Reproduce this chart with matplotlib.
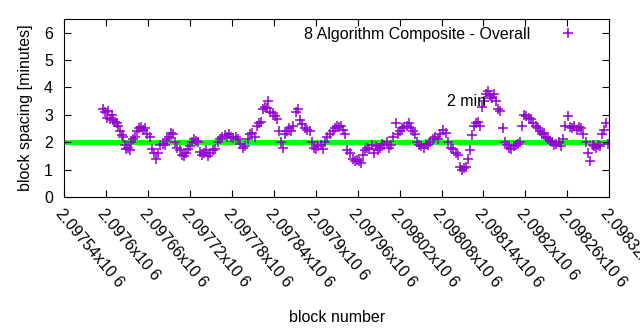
import numpy as np
import matplotlib
matplotlib.use("Agg")
import matplotlib.pyplot as plt

plt.rcParams['font.family'] = ['Liberation Sans', 'DejaVu Sans']
plt.rcParams['font.size'] = 11.5

# segments of the block spacing series: start block, end block
seg_start = [2097596, 2097606, 2097613, 2097620, 2097627, 2097636, 2097644, 2097659,
             2097666, 2097675, 2097687, 2097699, 2097709, 2097717, 2097726, 2097735,
             2097749, 2097760, 2097792, 2097803, 2097816, 2097825, 2097835, 2097845,
             2097853, 2097868, 2097881, 2097895, 2097913, 2097928, 2097945, 2097954,
             2097968, 2097992, 2098011, 2098021, 2098045, 2098064, 2098078, 2098090,
             2098107, 2098121, 2098138, 2098150, 2098161, 2098171, 2098195, 2098218,
             2098238, 2098257, 2098267, 2098286, 2098296, 2098310]
seg_end = seg_start[1:] + [2098320]
seg_vals = [
    [3.2, 3.1, 2.9, 3.15],
    [2.85, 3.0, 2.8],
    [2.75, 2.7, 2.6],
    [2.4, 2.25, 2.2],
    [1.9, 1.75, 1.8, 1.7],
    [2.0, 2.1, 2.2],
    [2.4, 2.5, 2.55, 2.45, 2.5],
    [2.3, 2.2],
    [1.75, 1.6, 1.4],
    [1.6, 1.9, 1.95, 1.9],
    [2.1, 2.2, 2.35, 2.3],
    [2.0, 1.8, 1.7],
    [1.55, 1.5, 1.6],
    [1.75, 1.85, 2.0],
    [2.1, 2.05, 2.0],
    [1.65, 1.55, 1.6, 1.7, 1.5],
    [1.6, 1.7, 1.75],
    [2.0, 2.1, 2.2, 2.25, 2.2, 2.3, 2.2, 2.15, 2.2, 2.1],
    [1.95, 1.8, 1.85],
    [2.1, 2.3, 2.35, 2.2],
    [2.6, 2.7, 2.75],
    [3.2, 3.3, 3.25, 3.5],
    [3.1, 3.05, 2.95],
    [2.85, 2.4, 2.0],
    [1.8, 2.3, 2.4, 2.5, 2.4],
    [2.6, 3.1, 3.2, 2.8],
    [2.65, 2.5, 2.45, 2.4],
    [2.0, 1.8, 1.75, 1.85, 1.9, 1.75],
    [2.0, 2.2, 2.3, 2.4],
    [2.5, 2.6, 2.55, 2.6, 2.45, 2.3],
    [1.7, 1.6],
    [1.4, 1.3, 1.35, 1.3, 1.25],
    [1.55, 1.7, 1.8, 1.75, 1.9, 1.6, 1.85, 1.7],
    [1.8, 1.95, 1.9, 2.0, 1.8, 1.9],
    [2.2, 2.7, 2.3],
    [2.4, 2.5, 2.55, 2.6, 2.7, 2.5, 2.4, 2.3],
    [2.0, 1.9, 1.85, 1.8, 1.95, 1.9],
    [2.0, 2.1, 2.2, 2.1],
    [2.3, 2.45, 2.35],
    [2.0, 1.8, 1.75, 1.6, 1.55],
    [1.1, 1.0, 1.05, 1.1, 1.4],
    [1.7, 2.25, 2.6, 2.7, 2.75, 2.6],
    [3.3, 3.5, 3.75, 3.85],
    [3.7, 3.6, 3.75, 3.5],
    [3.2, 3.15, 2.5],
    [2.0, 1.9, 1.8, 1.75, 1.85, 1.9, 1.95, 2.0],
    [2.6, 3.0, 2.95, 2.9, 2.85, 2.7, 2.6],
    [2.5, 2.4, 2.3, 2.35, 2.2, 2.1, 2.05],
    [2.0, 1.9, 1.95, 2.0, 1.85, 2.1],
    [2.6, 2.95, 2.55],
    [2.5, 2.6, 2.45, 2.55, 2.5, 2.3],
    [2.0, 1.6, 1.3],
    [1.9, 1.85, 1.8, 1.9, 1.85],
    [2.3, 2.45, 2.7, 1.95],
]

target = 2.0
x_ticks = [2097540, 2097600, 2097660, 2097720, 2097780, 2097840, 2097900,
           2097960, 2098020, 2098080, 2098140, 2098200, 2098260, 2098320]
tick_labels = ["2.09754x10 6", "2.0976x10 6", "2.09766x10 6", "2.09772x10 6",
               "2.09778x10 6", "2.09784x10 6", "2.0979x10 6", "2.09796x10 6",
               "2.09802x10 6", "2.09808x10 6", "2.09814x10 6", "2.0982x10 6",
               "2.09826x10 6", "2.09832x10 6"]

blocks = []
spacing = []
for s, e, v in zip(seg_start, seg_end, seg_vals):
    blocks.extend(np.linspace(s, e, len(v), endpoint=False))
    spacing.extend(v)

fig = plt.figure(figsize=(6.4, 3.3), dpi=100)
ax = fig.add_axes([0.1, 0.403, 0.852, 0.54])

ax.axhline(target, color="#00ff00", linewidth=3.5, zorder=1)
ax.plot(blocks, spacing, linestyle="none", marker="+", markersize=7,
        markeredgewidth=1.1, color="#9400d3", zorder=2,
        label="8 Algorithm Composite - Overall")

ax.text(2098088, 3.5, "2 min", va="center", ha="left", zorder=3)

ax.set_xlim(2097540, 2098320)
ax.set_ylim(0, 6.5)
ax.set_yticks(range(0, 7))
ax.set_xticks(x_ticks)
ax.set_xticklabels(tick_labels, rotation=-50, ha="left", va="top",
                   rotation_mode="anchor")
ax.tick_params(direction="in", top=True, right=True, length=5, width=0.8)
ax.tick_params(axis="x", pad=7)
ax.tick_params(axis="y", pad=8)

ax.set_xlabel("block number", labelpad=14)
ax.set_ylabel("block spacing [minutes]", labelpad=8)

leg = ax.legend(loc="upper right", bbox_to_anchor=(0.976, 1.01), frameon=False,
                markerfirst=False, handlelength=2.3, handletextpad=1.2,
                borderaxespad=0.2)

plt.savefig("out.png", dpi=100)
